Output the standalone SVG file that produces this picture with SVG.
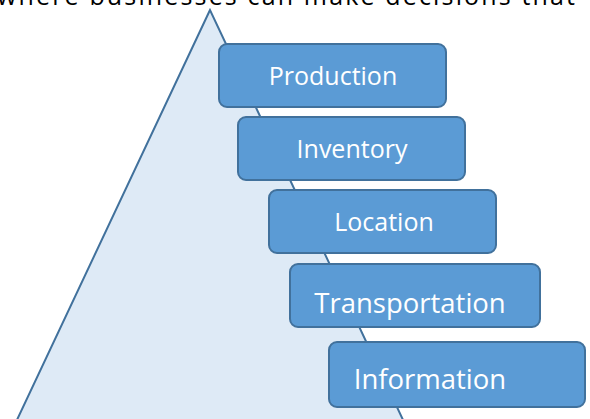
<svg xmlns="http://www.w3.org/2000/svg" width="590" height="419" viewBox="0 0 590 419">
<style>
.box{fill:#5B9BD5;stroke:#41719C;stroke-width:2}
.lbl{fill:#fff;font-family:"Open Sans","Liberation Sans",sans-serif;font-size:25px;text-anchor:middle}
.big{font-size:27.5px}
.top{fill:#000;font-family:"Open Sans","Liberation Sans",sans-serif;font-size:25px}
</style>
<rect width="590" height="419" fill="#fff"/>
<text class="top" x="-3" y="5" textLength="578" lengthAdjust="spacing">where businesses can make decisions that</text>
<g id="pyramid">
<polygon points="210,10 16,422 404,422" fill="#DEEAF6" stroke="#41719C" stroke-width="2"/>
</g>
<g id="connectors"></g>
<g id="production"><rect class="box" x="219" y="44" width="227" height="63" rx="8"/><text class="lbl" x="333" y="85">Production</text></g>
<g id="inventory"><rect class="box" x="238" y="117" width="227" height="63" rx="8"/><text class="lbl" x="352" y="158">Inventory</text></g>
<g id="location"><rect class="box" x="269" y="190" width="227" height="63" rx="8"/><text class="lbl" x="384" y="231">Location</text></g>
<g id="transportation"><rect class="box" x="290" y="264" width="250" height="63" rx="8"/><text class="lbl big" x="410" y="313">Transportation</text></g>
<g id="information"><rect class="box" x="329" y="342" width="256" height="65" rx="8"/><text class="lbl big" x="430" y="389">Information</text></g>
</svg>
